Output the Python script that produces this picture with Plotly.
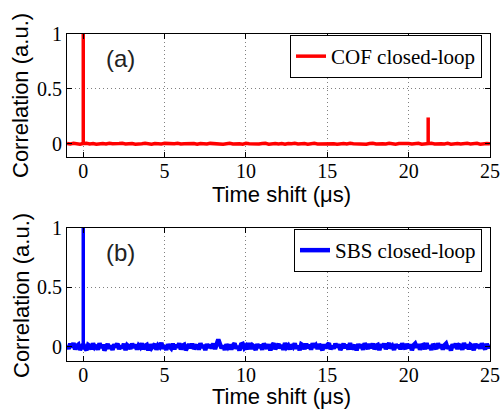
import plotly.graph_objects as go

# ---------------- data ----------------
t_start_us = -1.0
cof_step_us = 0.2
sbs_step_us = 0.1

# COF closed-loop correlation baseline (sampled every 0.2 us from -1 us)
cof_corr = [
    0.003, -0.002, 0.004, 0.001, -0.003, 0.002, 0.005, -0.001, 0.002, -0.004,
    0.001, 0.003, -0.002, 0.004, 0.000, -0.003, 0.002, 0.005, -0.002, 0.001,
    0.003, -0.004, 0.002, 0.000, 0.004, -0.001, -0.003, 0.003, 0.001, -0.002,
    0.004, 0.002, -0.003, 0.001, 0.005, -0.002, 0.000, 0.003, -0.001, 0.002,
    -0.004, 0.003, 0.001, -0.002, 0.004, 0.002, -0.001, 0.003, -0.003, 0.001,
    0.005, -0.002, 0.002, 0.000, -0.003, 0.004, 0.001, -0.001, 0.003, -0.002,
    0.002, 0.004, -0.003, 0.001, 0.003, -0.001, 0.002, -0.004, 0.003, 0.000,
    0.004, -0.002, 0.001, 0.003, -0.003, 0.002, 0.005, -0.001, 0.000, 0.003,
    -0.002, 0.004, 0.001, -0.003, 0.002, 0.003, -0.001, 0.004, 0.000, -0.002,
    0.003, 0.001, -0.004, 0.002, 0.005, -0.001, 0.003, 0.000, -0.002, 0.004,
    0.001, -0.003, 0.002, 0.004, -0.001, 0.003, -0.002, 0.001, 0.005, -0.003,
    0.002, 0.000, 0.004, -0.002, 0.003, 0.001, -0.001, 0.004, -0.003, 0.002,
    0.003, -0.002, 0.001, 0.004, -0.001, 0.002, 0.005, -0.003, 0.001, 0.003,
    0.000,
]
cof_peak_t = [0.0, 21.2]
cof_peak_val = [1.0, 0.24]

# SBS closed-loop correlation baseline (sampled every 0.1 us from -1 us)
sbs_corr = [
    0.012, -0.018, 0.025, -0.006, 0.031, -0.022, 0.008, 0.019, -0.027, 0.004,
    0.021, -0.011, -0.029, 0.016, 0.006, -0.020, 0.028, -0.004, 0.013, -0.024,
    0.030, -0.009, 0.017, -0.031, 0.005, 0.022, -0.015, 0.010, -0.026, 0.019,
    -0.003, 0.027, -0.019, 0.009, -0.012, 0.024, -0.028, 0.014, 0.002, -0.017,
    0.026, -0.008, 0.018, -0.023, 0.011, -0.005, 0.029, -0.021, 0.007, 0.015,
    -0.030, 0.020, -0.010, 0.004, 0.023, -0.025, 0.012, -0.002, 0.032, -0.016,
    0.008, -0.027, 0.019, 0.001, -0.013, 0.025, -0.020, 0.014, -0.006, 0.028,
    -0.022, 0.010, 0.017, -0.029, 0.006, 0.021, -0.011, 0.026, -0.018, 0.003,
    0.015, -0.024, 0.030, -0.007, 0.012, -0.028, 0.022, -0.009, 0.018, -0.014,
    0.027, -0.019, 0.033, 0.062, 0.024, -0.012, 0.009, -0.026, 0.020, -0.004,
    0.016, -0.023, 0.011, 0.028, -0.015, 0.005, -0.030, 0.019, 0.024, -0.010,
    0.007, -0.021, 0.031, -0.017, 0.013, 0.002, -0.027, 0.022, -0.008, 0.017,
    -0.025, 0.026, 0.004, -0.014, 0.020, -0.031, 0.011, 0.029, -0.019, 0.006,
    0.023, -0.012, 0.015, -0.026, 0.032, -0.005, 0.010, -0.022, 0.018, -0.001,
    0.027, -0.016, 0.008, -0.028, 0.021, 0.013, -0.020, 0.025, -0.009, 0.016,
    -0.024, 0.030, -0.006, 0.012, -0.018, 0.022, 0.003, -0.029, 0.019, -0.011,
    0.014, 0.028, -0.021, 0.007, -0.015, 0.026, -0.003, 0.020, -0.027, 0.011,
    0.024, -0.010, 0.017, -0.023, 0.031, -0.018, 0.006, 0.013, -0.030, 0.022,
    -0.007, 0.018, -0.025, 0.029, 0.002, -0.016, 0.023, -0.012, 0.027, -0.021,
    0.009, 0.016, -0.028, 0.020, -0.004, 0.025, -0.019, 0.011, 0.030, -0.013,
    0.005, -0.026, 0.021, -0.008, 0.017, -0.022, 0.028, 0.001, -0.017, 0.024,
    -0.011, 0.019, -0.029, 0.013, 0.026, -0.006, 0.022, -0.024, 0.010, 0.015,
    -0.020, 0.031, -0.014, 0.008, -0.027, 0.023, 0.004, -0.018, 0.029, -0.009,
    0.018, -0.023, 0.012, 0.026, -0.015, 0.003, -0.030, 0.021, -0.005, 0.027,
    -0.019, 0.014, 0.009, -0.025, 0.032, -0.011, 0.020, -0.022, 0.016, 0.006,
    -0.028, 0.024, -0.007, 0.019, -0.016, 0.028, 0.002, -0.021, 0.025, -0.012,
    0.017,
]
sbs_peak_t = [0.0]
sbs_peak_val = [1.0]

x_ticks = [0, 5, 10, 15, 20, 25]
y_ticks = [0, 0.5, 1]
y_ticktext = ["0", "0.5", "1"]

# ---------------- build ----------------
cof_t = [round(t_start_us + cof_step_us * i, 3) for i in range(len(cof_corr))]
sbs_t = [round(t_start_us + sbs_step_us * i, 3) for i in range(len(sbs_corr))]


def spikes(ts, vals):
    xs, ys = [], []
    for t, v in zip(ts, vals):
        xs += [t, t, None]
        ys += [0, v, None]
    return xs, ys


RED = "#ff0000"
BLUE = "#0000ff"

fig = go.Figure()
fig.add_trace(go.Scatter(x=cof_t, y=cof_corr, mode="lines", name="COF closed-loop",
                         line=dict(color=RED, width=3.5), xaxis="x", yaxis="y", legend="legend"))
sx, sy = spikes(cof_peak_t, cof_peak_val)
fig.add_trace(go.Scatter(x=sx, y=sy, mode="lines", showlegend=False,
                         line=dict(color=RED, width=3.5), xaxis="x", yaxis="y"))

fig.add_trace(go.Scatter(x=sbs_t, y=sbs_corr, mode="lines", name="SBS closed-loop",
                         line=dict(color=BLUE, width=4.5), xaxis="x2", yaxis="y2", legend="legend2"))
sx, sy = spikes(sbs_peak_t, sbs_peak_val)
fig.add_trace(go.Scatter(x=sx, y=sy, mode="lines", showlegend=False,
                         line=dict(color=BLUE, width=3.5), xaxis="x2", yaxis="y2"))

W, H = 501, 411
serif = "Liberation Serif, Times New Roman, serif"
sans = "Liberation Sans, Arial, sans-serif"

common = dict(showline=True, linecolor="black", linewidth=1, mirror="ticks",
              ticks="inside", ticklen=5, tickcolor="black", tickwidth=1,
              showgrid=True, gridcolor="#808080", griddash="1px,3px", gridwidth=1,
              zeroline=False, automargin=False,
              tickfont=dict(family=serif, size=20, color="black"))

xdom = [67 / W, 490 / W]
legend_common = dict(xanchor="right", yanchor="top", bordercolor="black", borderwidth=1,
                     bgcolor="white", font=dict(family=serif, size=21, color="black"),
                     tracegroupgap=0, itemwidth=30)
fig.update_layout(
    width=W, height=H, margin=dict(l=0, r=0, t=0, b=0, pad=0, autoexpand=False),
    paper_bgcolor="white", plot_bgcolor="white",
    xaxis=dict(domain=xdom, anchor="y", range=[-1, 25], tickvals=x_ticks,
               ticklabelstandoff=-4, **common),
    yaxis=dict(domain=[1 - 157 / H, 1 - 34 / H], anchor="x", range=[-0.12, 1],
               tickvals=y_ticks, ticktext=y_ticktext, **common),
    xaxis2=dict(domain=xdom, anchor="y2", range=[-1, 25], tickvals=x_ticks,
                ticklabelstandoff=-4, **common),
    yaxis2=dict(domain=[1 - 361 / H, 1 - 228 / H], anchor="x2", range=[-0.12, 1],
                tickvals=y_ticks, ticktext=y_ticktext, **common),
    legend=dict(x=482 / W, y=1 - 35 / H, **legend_common),
    legend2=dict(x=482 / W, y=1 - 229 / H, **legend_common),
    showlegend=True,
)

ann = [
    dict(text="(a)", x=120 / W, y=1 - 59 / H, font=dict(family=sans, size=24, color="#222")),
    dict(text="(b)", x=120 / W, y=1 - 252 / H, font=dict(family=sans, size=24, color="#222")),
    dict(text="Time shift (μs)", x=281 / W, y=1 - 194 / H, font=dict(family=sans, size=22, color="black")),
    dict(text="Time shift (μs)", x=281 / W, y=1 - 396 / H, font=dict(family=sans, size=22, color="black")),
    dict(text="Correlation (a.u.)", x=21 / W, y=1 - 96 / H, textangle=-90,
         font=dict(family=sans, size=22, color="black")),
    dict(text="Correlation (a.u.)", x=21 / W, y=1 - 296 / H, textangle=-90,
         font=dict(family=sans, size=22, color="black")),
]
for a in ann:
    fig.add_annotation(xref="paper", yref="paper", showarrow=False,
                       xanchor="center", yanchor="middle", **a)

fig.write_html("out.html")
